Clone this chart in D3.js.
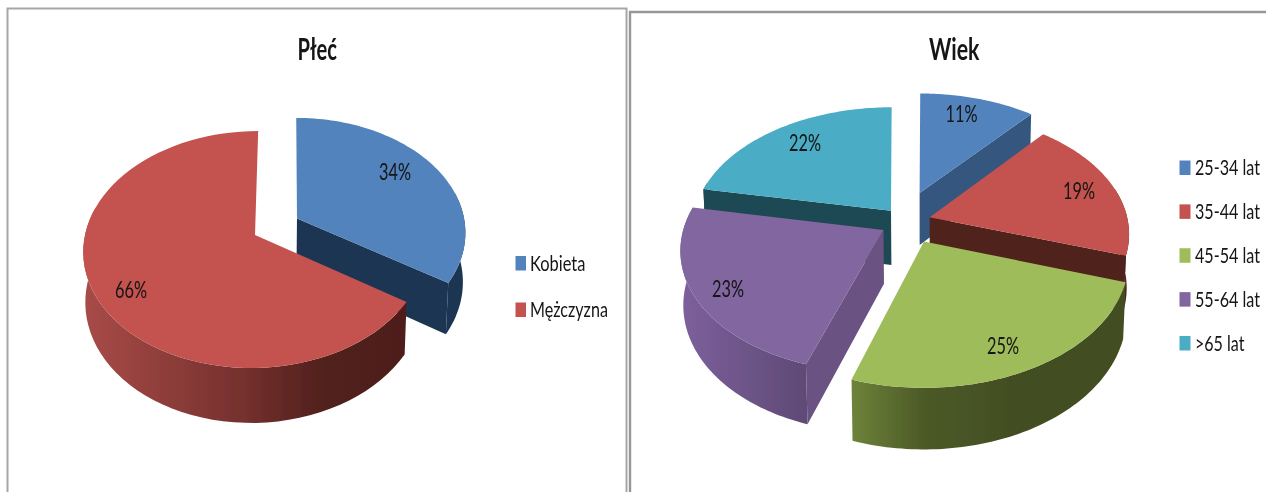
<!DOCTYPE html>
<html><head><meta charset="utf-8">
<script src="https://cdn.jsdelivr.net/npm/d3@7/dist/d3.min.js"></script>
<style>html,body{margin:0;padding:0;background:#fff;overflow:hidden}svg{display:block}
text{font-family:Lato,"Open Sans",sans-serif;fill:#141414}</style>
</head><body><svg id="c" width="1266" height="492"></svg>
<script>
// ---- data ----
const genderCategories = ["Kobieta", "Mężczyzna"];
const genderValues = [34, 66];
const ageCategories = ["25-34 lat", "35-44 lat", "45-54 lat", "55-64 lat", ">65 lat"];
const ageValues = [11, 19, 25, 23, 22];
const titles = ["Płeć", "Wiek"];
const topColors = ["#5283bd", "#c4534f", "#9fbc5a", "#8266a0", "#4badc5"];

// ---- layout & style ----
const svg = d3.select("#c");
const defs = svg.append("defs");
defs.append("filter").attr("id","soft").attr("x","-5%").attr("y","-5%").attr("width","110%").attr("height","110%")
  .append("feGaussianBlur").attr("stdDeviation",0.45);
defs.append("filter").attr("id","softT").attr("x","-10%").attr("y","-20%").attr("width","120%").attr("height","140%")
  .append("feGaussianBlur").attr("stdDeviation",0.35);

const genderLayout = {
  id:"g", ax:255.5, ay:235, A:170, B:116.7, k:0.1224, m:0.012,
  values:genderValues, colors:topColors,
  order:[0,1],
  apex:[[297,218.5],[255,235]],
  skew:[-4.2,-3.5],
  depth:[50,50.5],
  showCut:[[false,true],[false,false]],
  cut:["#1c3652","#50201d"],
  wall:[[[0,"#1c3652"],[1,"#1c3652"]],[[0,"#a84b48"],[0.5,"#74302d"],[0.75,"#50201d"],[1,"#4f1f1d"]]],
  wallX:[[297,470],[85,405]],
  labels:[[395,180],[131,298]], labelW:32
};
const ageLayout = {
  id:"a", ax:925, ay:242, A:203, B:126, k:0.14, m:0.012,
  values:ageValues, colors:topColors,
  order:[0,4,1,3,2],
  apex:[[919.6,193],[929.7,217.3],[924,241.5],[883.5,230],[891,210.7]],
  skew:[0,0,0,0,4],
  depth:[55,55,55.5,55,56.5],
  showCut:[[false,true],[false,true],[false,false],[true,false],[true,false]],
  cut:["#34577f","#50201d","#45511f","#6a5283","#1f4852"],
  wall:[[[0,"#34577f"],[1,"#34577f"]],[[0,"#50201d"],[1,"#50201d"]],
        [[0,"#6d833a"],[0.45,"#4c5a27"],[1,"#434e23"]],[[0,"#7c5f9b"],[1,"#5e4a75"]],[[0,"#1f4852"],[1,"#1f4852"]]],
  wallX:[[900,1040],[1000,1130],[852,1010],[684,808],[700,890]],
  labels:[[961.5,121.5],[1079,199],[1003,354],[728,296.5],[805,151]], labelW:32
};

// place a text so that it spans exactly `width` pixels from left edge x
function fitText(parent, str, x, y, width, size, weight){
  const t = parent.append("text").attr("font-size",size).attr("font-weight",weight||400).text(str);
  const natural = t.node().getComputedTextLength();
  t.attr("transform",`translate(${x},${y}) scale(${width/natural},1)`);
  return t;
}

function drawPie(cfg){
  const arcs = d3.pie().sort(null).value(d=>d)(cfg.values);
  const line = d3.line();
  const root = svg.append("g").attr("filter","url(#soft)");
  cfg.order.forEach(i=>{
    const H = cfg.depth[i], skew = cfg.skew[i];
    // perspective projection of a point on the pie plane (u right, v toward viewer, z down)
    const project = (u,v,z)=>{
      const w = 1 - cfg.k*v + cfg.m*z;
      return [cfg.ax + (cfg.A*u + skew*v)/w, cfg.ay + (cfg.B*v + H*z)/w];
    };
    const [ex,ey] = cfg.apex[i];
    const d = ey-cfg.ay;
    const v0 = d/(cfg.B + cfg.k*d);
    const u0 = ((ex-cfg.ax)*(1-cfg.k*v0) - skew*v0)/cfg.A;
    const a = arcs[i];
    const angle = d3.scaleLinear().domain([0,72]).range([a.startAngle,a.endAngle]);
    const thetas = d3.range(0,73).map(angle);
    const pt = (t,z)=>project(u0+Math.sin(t), v0-Math.cos(t), z);
    const top = thetas.map(t=>pt(t,0));
    const c0 = project(u0,v0,0), c1 = project(u0,v0,1);
    // only the part of the outer wall that faces the viewer
    const front = thetas.filter(t=>-Math.cos(t) > -0.25);
    const g = defs.append("linearGradient").attr("id",`w${cfg.id}${i}`)
      .attr("gradientUnits","userSpaceOnUse")
      .attr("x1",cfg.wallX[i][0]).attr("x2",cfg.wallX[i][1]).attr("y1",0).attr("y2",0);
    cfg.wall[i].forEach(s=>g.append("stop").attr("offset",s[0]).attr("stop-color",s[1]));
    const slice = root.append("g");
    if(cfg.showCut[i][0]) slice.append("path").attr("d",line([c0, top[0], pt(thetas[0],1), c1])+"Z").attr("fill",cfg.cut[i]);
    if(cfg.showCut[i][1]) slice.append("path").attr("d",line([c0, top[72], pt(thetas[72],1), c1])+"Z").attr("fill",cfg.cut[i]);
    if(front.length>1){
      const wallPts = front.map(t=>pt(t,0)).concat(front.slice().reverse().map(t=>pt(t,1)));
      slice.append("path").attr("d",line(wallPts)+"Z").attr("fill",`url(#w${cfg.id}${i})`);
    }
    slice.append("path").attr("d",line([c0].concat(top))+"Z").attr("fill",cfg.colors[i]);
  });
  const txt = svg.append("g").attr("filter","url(#softT)");
  cfg.values.forEach((v,i)=>{
    fitText(txt, v+"%", cfg.labels[i][0]-cfg.labelW/2, cfg.labels[i][1], cfg.labelW, 22.5);
  });
}

function drawLegend(cats, opts){
  const y = d3.scalePoint().domain(cats).range(opts.range);
  const g = svg.append("g").attr("filter","url(#softT)");
  cats.forEach((c,i)=>{
    g.append("rect").attr("x",opts.x).attr("y",y(c)-opts.sw).attr("width",opts.swW).attr("height",opts.sw)
      .attr("fill",topColors[i]);
    fitText(g, c, opts.tx, y(c), opts.w[i], 22);
  });
}

// frames
const frames = svg.append("g").attr("fill","none").attr("filter","url(#softT)");
frames.append("path").attr("d","M7.5,492V8.5H626.5V492").attr("stroke","#a6a6a6").attr("stroke-width",2);
frames.append("path").attr("d","M630,492V12H1266").attr("stroke","#969696").attr("stroke-width",2.4);

drawPie(genderLayout);
drawPie(ageLayout);

drawLegend(genderCategories,{x:515.5,swW:10.5,sw:14.5,tx:530,range:[270.5,317],w:[55.5,78]});
drawLegend(ageCategories,{x:1179.5,swW:11,sw:14.5,tx:1195,range:[175,350.5],w:[65,65,65,65,49.5]});

const tg = svg.append("g").attr("filter","url(#softT)");
[[titles[0],297.5,60,39.5],[titles[1],929,60,50.5]].forEach(t=>{
  fitText(tg, t[0], t[1], t[2], t[3], 30, 700);
});
</script></body></html>
